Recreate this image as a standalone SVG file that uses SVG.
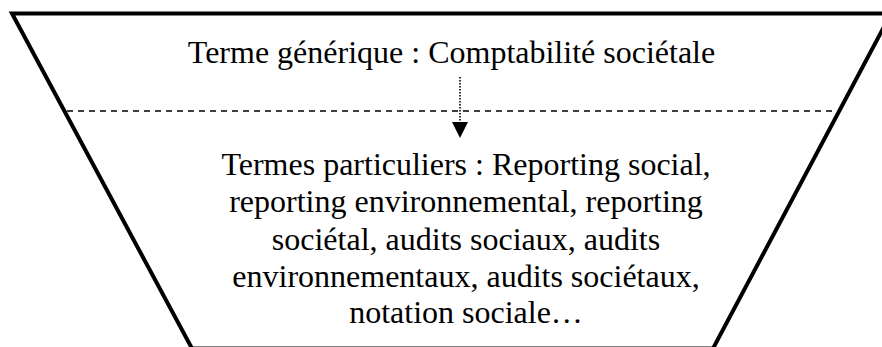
<svg xmlns="http://www.w3.org/2000/svg" width="882" height="347" viewBox="0 0 882 347">
  <style>
    .lbl { font-family: "Liberation Serif", "Times New Roman", serif; font-size: 32px; fill: #000; text-anchor: middle; }
    .frame { fill: #fff; stroke: #000; stroke-width: 4; stroke-linejoin: miter; }
    .divider { stroke: #000; stroke-width: 1.5; stroke-dasharray: 6 5; fill: none; }
    .dotted { stroke: #000; stroke-width: 1.6; stroke-dasharray: 1.5 1.5; fill: none; }
  </style>
  <defs>
    <marker id="arrowhead" markerWidth="16" markerHeight="16" refX="0" refY="8" orient="auto" markerUnits="userSpaceOnUse" viewBox="0 0 16 16">
      <path d="M0,0 L16,8 L0,16 Z" fill="#000"/>
    </marker>
  </defs>
  <rect width="882" height="347" fill="#fff"/>
  <g id="funnel">
    <polygon class="frame" points="12,13.5 891,13.5 713,348.5 192,348.5"/>
  </g>
  <g id="divider">
    <line class="divider" x1="67" y1="111" x2="832" y2="111"/>
  </g>
  <g id="connectors">
    <line class="dotted" x1="460" y1="77" x2="460" y2="122" marker-end="url(#arrowhead)"/>
  </g>
  <g id="generic-term">
    <text class="lbl" x="451.5" y="63">Terme générique : Comptabilité sociétale</text>
  </g>
  <g id="particular-terms">
    <text class="lbl" x="466" y="175">Termes particuliers : Reporting social,</text>
    <text class="lbl" x="466" y="212">reporting environnemental, reporting</text>
    <text class="lbl" x="466" y="249.5">sociétal, audits sociaux, audits</text>
    <text class="lbl" x="466" y="286.5">environnementaux, audits sociétaux,</text>
    <text class="lbl" x="466" y="323">notation sociale…</text>
  </g>
</svg>
